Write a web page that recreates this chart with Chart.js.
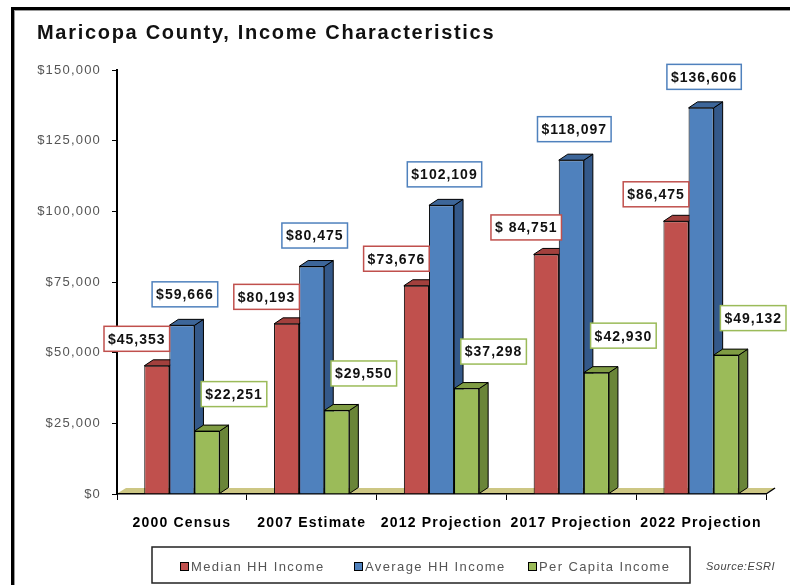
<!DOCTYPE html>
<html lang="en">
<head>
    <meta charset="UTF-8">
    <title>Maricopa County, Income Characteristics</title>
    <script src="https://cdn.jsdelivr.net/npm/chart.js"></script>
    <style>
        body {
            margin: 0;
            background-color: #fff;
        }
        canvas {
            display: block;
        }
    </style>
</head>
<body>
    <canvas id="myChart" width="790" height="585"></canvas>

    <script>
        // Data
        const categories = ['2000 Census', '2007 Estimate', '2012 Projection', '2017 Projection', '2022 Projection'];
        const medianIncome = [45353, 60193, 73676, 84751, 96475];
        const averageIncome = [59666, 80475, 102109, 118097, 136606];
        const perCapitaIncome = [22251, 29550, 37298, 42930, 49132];

        // label texts as printed on the chart
        const medianLabels = ['$45,353', '$80,193', '$73,676', '$ 84,751', '$86,475'];
        const averageLabels = ['$59,666', '$80,475', '$102,109', '$118,097', '$136,606'];
        const perCapitaLabels = ['$22,251', '$29,550', '$37,298', '$42,930', '$49,132'];

        const yTickLabels = ['$0', '$25,000', '$50,000', '$75,000', '$100,000', '$125,000', '$150,000'];

        const titleText = 'Maricopa County, Income Characteristics';
        const sourceText = 'Source:ESRI';

        const ctx = document.getElementById('myChart').getContext('2d');

        // colours per series: front, side, top
        const faces = [
            { front: '#c0504d', side: '#8e3532', top: '#a2403d' },
            { front: '#4f81bd', side: '#34598a', top: '#3d6699' },
            { front: '#9bbb59', side: '#6a8538', top: '#7f9c43' }
        ];
        const labelTexts = [medianLabels, averageLabels, perCapitaLabels];
        const labelOffsets = [[-20, -27], [3, -31], [27, -37]];
        const depthX = 9, depthY = 6;

        const frame3d = {
            id: 'frame3d',
            beforeDraw(chart) {
                const c = chart.ctx;
                c.save();
                // outer frame
                c.fillStyle = '#000';
                c.fillRect(11, 7, 790, 3);
                c.fillRect(11, 7, 3, 590);
                c.fillStyle = '#999';
                c.fillRect(14, 10, 790, 1);
                c.fillRect(14, 10, 1, 590);
                // title
                c.fillStyle = '#111';
                c.font = 'bold 20px "Liberation Sans", Arial, sans-serif';
                c.letterSpacing = '1.7px';
                c.textBaseline = 'alphabetic';
                c.fillText(titleText, 37, 39);
                c.restore();
                c.letterSpacing = '1.2px';
            },
            beforeDatasetsDraw(chart) {
                const c = chart.ctx;
                const a = chart.chartArea;
                c.save();
                c.letterSpacing = '0px';
                // floor
                c.fillStyle = '#cdc784';
                c.beginPath();
                c.moveTo(a.left + 1, a.bottom - 1);
                c.lineTo(a.right, a.bottom - 1);
                c.lineTo(a.right + depthX, a.bottom - depthY);
                c.lineTo(a.left + depthX, a.bottom - depthY);
                c.closePath();
                c.fill();
                c.strokeStyle = '#000';
                c.lineWidth = 1.5;
                c.beginPath();
                c.moveTo(a.right, a.bottom);
                c.lineTo(a.right + depthX, a.bottom - depthY);
                c.stroke();

                // side and top faces of the bars
                c.lineWidth = 1;
                for (let i = 0; i < categories.length; i++) {
                    for (let d = 0; d < chart.data.datasets.length; d++) {
                        const bar = chart.getDatasetMeta(d).data[i];
                        const p = bar.getProps(['x', 'y', 'base', 'width'], true);
                        const l = p.x - p.width / 2, r = p.x + p.width / 2;
                        c.fillStyle = faces[d].side;
                        c.beginPath();
                        c.moveTo(r, p.y);
                        c.lineTo(r + depthX, p.y - depthY);
                        c.lineTo(r + depthX, p.base - depthY);
                        c.lineTo(r, p.base);
                        c.closePath();
                        c.fill();
                        c.stroke();
                        c.fillStyle = faces[d].top;
                        c.beginPath();
                        c.moveTo(l, p.y);
                        c.lineTo(l + depthX, p.y - depthY);
                        c.lineTo(r + depthX, p.y - depthY);
                        c.lineTo(r, p.y);
                        c.closePath();
                        c.fill();
                        c.stroke();
                    }
                }
                c.restore();
            },
            afterDatasetsDraw(chart) {
                const c = chart.ctx;
                c.save();
                c.font = 'bold 14px "Liberation Sans", Arial, sans-serif';
                c.letterSpacing = '1px';
                c.textBaseline = 'middle';
                c.textAlign = 'left';
                chart.data.datasets.forEach((ds, d) => {
                    chart.getDatasetMeta(d).data.forEach((bar, i) => {
                        const text = labelTexts[d][i];
                        const w = c.measureText(text).width + 8;
                        const h = 25;
                        const cx = bar.x + labelOffsets[d][0];
                        const cy = bar.y + labelOffsets[d][1];
                        c.fillStyle = '#fff';
                        c.fillRect(cx - w / 2, cy - h / 2, w, h);
                        c.strokeStyle = ds.backgroundColor;
                        c.lineWidth = 1.5;
                        c.strokeRect(cx - w / 2, cy - h / 2, w, h);
                        c.fillStyle = '#111';
                        c.fillText(text, cx - w / 2 + 4, cy + 1);
                    });
                });
                c.restore();
            },
            afterDraw(chart) {
                const c = chart.ctx;
                c.save();
                c.letterSpacing = '0px';
                // legend box
                c.strokeStyle = '#222';
                c.lineWidth = 1.5;
                c.strokeRect(152, 547, 538, 36);
                c.font = '13px "Liberation Sans", Arial, sans-serif';
                c.letterSpacing = '1.4px';
                c.textBaseline = 'middle';
                const xs = [180, 354, 528];
                chart.data.datasets.forEach((ds, d) => {
                    c.fillStyle = ds.backgroundColor;
                    c.fillRect(xs[d], 562, 9, 9);
                    c.strokeStyle = '#000';
                    c.lineWidth = 1;
                    c.strokeRect(xs[d] + 0.5, 562.5, 8, 8);
                    c.fillStyle = '#555';
                    c.fillText(ds.label, xs[d] + 11, 567);
                });
                c.font = 'italic 11px "Liberation Sans", Arial, sans-serif';
                c.letterSpacing = '0.5px';
                c.fillStyle = '#444';
                c.fillText(sourceText, 706, 567);
                c.restore();
                c.letterSpacing = '0px';
            }
        };

        const myChart = new Chart(ctx, {
            type: 'bar',
            data: {
                labels: categories,
                datasets: [
                    {
                        label: 'Median HH Income',
                        data: medianIncome,
                        backgroundColor: '#c0504d',
                        borderColor: '#000',
                        borderWidth: 1
                    },
                    {
                        label: 'Average HH Income',
                        data: averageIncome,
                        backgroundColor: '#4f81bd',
                        borderColor: '#000',
                        borderWidth: 1
                    },
                    {
                        label: 'Per Capita Income',
                        data: perCapitaIncome,
                        backgroundColor: '#9bbb59',
                        borderColor: '#000',
                        borderWidth: 1
                    }
                ]
            },
            options: {
                responsive: false,
                animation: false,
                categoryPercentage: 0.58,
                barPercentage: 1.0,
                layout: {
                    padding: { top: 70, right: 24, bottom: 51, left: 0 }
                },
                plugins: {
                    legend: { display: false },
                    tooltip: { enabled: false }
                },
                scales: {
                    x: {
                        afterFit(scale) { scale.height = 40; },
                        border: { color: '#000', width: 1.5 },
                        grid: {
                            offset: true,
                            drawOnChartArea: false,
                            color: '#000',
                            tickLength: 6
                        },
                        ticks: {
                            color: '#000',
                            padding: 15,
                            maxRotation: 0,
                            font: { family: '"Liberation Sans", Arial, sans-serif', size: 14, weight: 'bold' }
                        }
                    },
                    y: {
                        min: 0,
                        max: 150000,
                        afterFit(scale) { scale.width = 117; },
                        border: { color: '#000', width: 2 },
                        grid: {
                            drawOnChartArea: false,
                            color: '#000',
                            tickLength: 5
                        },
                        ticks: {
                            stepSize: 25000,
                            color: '#555',
                            padding: 11,
                            font: { family: '"Liberation Sans", Arial, sans-serif', size: 13 },
                            callback: (value, index) => yTickLabels[index]
                        }
                    }
                }
            },
            plugins: [frame3d]
        });
    </script>
</body>
</html>
